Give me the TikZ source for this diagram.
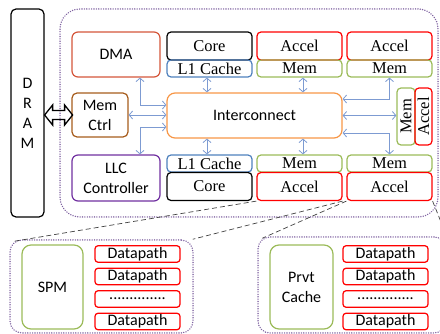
\documentclass[tikz,border=0pt]{standalone}
\usepackage{fontspec}
\setmainfont{Liberation Serif}
\newfontfamily\calib{Carlito}
\usetikzlibrary{arrows.meta}
\definecolor{dmared}{RGB}{212,86,58}
\definecolor{l1blue}{RGB}{79,129,189}
\definecolor{accred}{RGB}{255,0,0}
\definecolor{memgreen}{RGB}{155,187,89}
\definecolor{ctrlbrown}{RGB}{166,92,28}
\definecolor{icorange}{RGB}{247,150,70}
\definecolor{llcpurple}{RGB}{112,48,160}
\definecolor{dotpurple}{RGB}{128,100,162}
\definecolor{linkblue}{RGB}{125,155,210}
\definecolor{zoomgray}{RGB}{64,64,64}
\tikzset{
  box/.style={draw, rounded corners=4pt, line width=1.2pt, inner sep=0pt, align=center, text=black},
  serif/.style={font=\fontsize{16.5}{20}\selectfont},
  sans/.style={font=\calib\fontsize{16}{20}\selectfont},
  unit/.style={box, serif, minimum width=85pt},
  accel/.style={unit, draw=accred, minimum height=28pt},
  core/.style={unit, draw=black, minimum height=28pt},
  mem/.style={unit, draw=memgreen, minimum height=17pt},
  lone/.style={unit, draw=l1blue, minimum height=17pt},
  dpath/.style={box, sans, draw=accred, rounded corners=3pt, minimum width=85pt, minimum height=16.5pt},
  group/.style={draw=dotpurple, line width=1.5pt, dash pattern=on 0.1pt off 2.3pt, line cap=round, rounded corners=#1},
  link/.style={draw=linkblue, line width=0.8pt, {Straight Barb[length=3.5pt,width=8pt]}-{Straight Barb[length=3.5pt,width=8pt]}},
  zoomline/.style={draw=zoomgray, line width=0.7pt, dash pattern=on 5pt off 3pt}
}
\begin{document}
\begin{tikzpicture}[x=1pt, y=-1pt]
  \useasboundingbox (0,0) rectangle (440,334);
  \clip (0,0) rectangle (440,334);
  % system
  \node[group=20pt, minimum width=378pt, minimum height=208pt] (soc) at (249,113) {};
  \node[box, sans, draw=black, rounded corners=5pt, minimum width=33pt, minimum height=208pt] (dram) at (27.5,113) {D\\R\\A\\M};
  \node[box, sans, draw=dmared, rounded corners=6pt, minimum width=88pt, minimum height=45pt] (dma) at (116,54.5) {DMA};
  \node[box, sans, draw=ctrlbrown, rounded corners=5pt, minimum width=56pt, minimum height=44pt] (mc) at (100,115) {Mem\\Ctrl};
  \node[box, sans, draw=llcpurple, rounded corners=6pt, minimum width=88pt, minimum height=46pt] (llc) at (116,178) {LLC\\Controller};
  \node[box, sans, draw=icorange, rounded corners=8pt, minimum width=175pt, minimum height=45pt] (ic) at (254.5,115.5) {Interconnect};
  \node[core] (ct) at (209.5,46) {Core};
  \node[lone] (lt) at (209.5,68.5) {L1 Cache};
  \node[accel] (at1) at (299.5,46) {Accel};
  \node[mem] (mt1) at (299.5,68.5) {Mem};
  \node[accel] (at2) at (389.5,46) {Accel};
  \node[mem] (mt2) at (389.5,68.5) {Mem};
  \node[lone] (lb) at (209.5,163.5) {L1 Cache};
  \node[core] (cb) at (209.5,186.5) {Core};
  \node[mem] (mb1) at (299.5,163.5) {Mem};
  \node[accel] (ab1) at (299.5,186.5) {Accel};
  \node[mem] (mb2) at (389.5,163.5) {Mem};
  \node[accel] (ab2) at (389.5,186.5) {Accel};
  \node[box, serif, draw=memgreen, minimum width=18pt, minimum height=57pt] (ms) at (406,116.5) {\rotatebox{90}{Mem}};
  \node[box, serif, draw=accred, minimum width=17pt, minimum height=57pt] (as) at (423.5,116.5) {\rotatebox{90}{Accel}};
  % links
  \draw[link] ([xshift=24pt]dma.south) |- ([yshift=10.5pt]ic.west);
  \draw[link] (mc.east) -- (mc.east -| ic.west);
  \draw[link] ([yshift=-11.5pt]ic.west) -| ([xshift=24pt]llc.north);
  \draw[link] ([xshift=-2.5pt]lt.south) -- ([xshift=-2.5pt]lt.south |- ic.north);
  \draw[link] ([xshift=-2.5pt]lb.north) -- ([xshift=-2.5pt]lb.north |- ic.south);
  \draw[link] ([xshift=3.5pt]mt1.south) -- ([xshift=3.5pt]mt1.south |- ic.north);
  \draw[link] ([xshift=3.5pt]mb1.north) -- ([xshift=3.5pt]mb1.north |- ic.south);
  \draw[link] (mt2.south) |- ([yshift=16.5pt]ic.east);
  \draw[link] (ic.east) -- (ic.east -| ms.west);
  \draw[link] ([yshift=-17.5pt]ic.east) -| (mb2.north);
  \draw[line width=1.3pt, line join=miter] (dram.east |- mc.west) -- ++(8,-10) -- ++(0,5.5) -- ++(12,0) -- ++(0,-5.5)
    -- ++(8,10) -- ++(-8,10) -- ++(0,-5.5) -- ++(-12,0) -- ++(0,5.5) -- cycle;
  % accelerator details
  \node[group=12pt, minimum width=183pt, minimum height=93pt] (spmacc) at (101.5,286.5) {};
  \node[group=12pt, minimum width=188pt, minimum height=96pt] (cacheacc) at (352,285) {};
  \node[box, sans, draw=memgreen, rounded corners=9pt, minimum width=61pt, minimum height=84pt] (spm) at (52.5,287) {SPM};
  \node[box, sans, draw=memgreen, rounded corners=9pt, minimum width=63pt, minimum height=84pt] (prvt) at (301.5,287) {Prvt\\Cache};
  \foreach \col/\cx in {s/137.5, p/385.5} {
    \node[dpath] (\col1) at (\cx,254) {Datapath};
    \node[dpath] (\col2) at (\cx,276.5) {Datapath};
    \node[dpath] (\col3) at (\cx,299) {..............};
    \node[dpath] (\col4) at (\cx,321.5) {Datapath};
  }
  \draw[zoomline] (ab1.south west) -- ([xshift=5pt,yshift=-2pt]spmacc.north west);
  \draw[zoomline] (ab1.south east) -- ([xshift=-1pt]spmacc.north east);
  \draw[zoomline] (ab2.south west) -- ([xshift=5pt,yshift=-2pt]cacheacc.north west);
  \draw[zoomline] (ab2.south east) -- (cacheacc.north east);
\end{tikzpicture}
\end{document}
